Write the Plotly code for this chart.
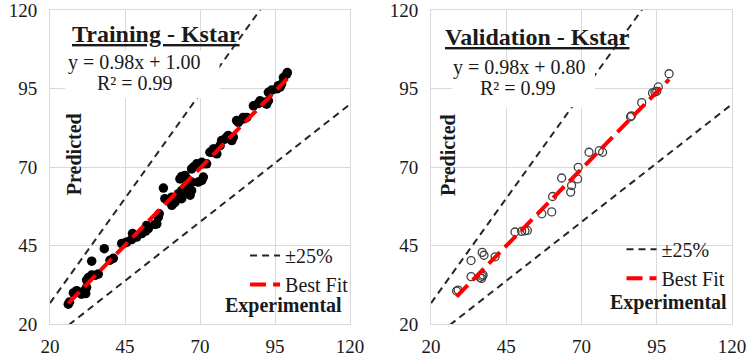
import plotly.graph_objects as go

# ---------------- data ----------------
train_exp = [26.1, 26.5, 27.8, 28.9, 30.0, 31.7, 32.2, 31.9, 30.5,
             32.2, 32.8, 33.9, 35.0, 36.1, 33.9, 38.1, 40.0, 41.1,
             43.9, 45.0, 45.6, 47.2, 48.9, 47.5, 50.6, 51.9, 52.8, 52.2, 55.0, 55.6, 56.1, 56.4,
             57.8, 58.3, 59.4, 60.0, 60.6, 60.6, 61.1, 61.7, 62.2, 62.8, 63.3, 63.9, 63.9, 64.4,
             65.0, 66.1, 66.1, 66.7, 67.2, 67.2, 63.3, 63.9, 65.0, 65.6, 66.7, 69.4, 70.6, 71.1,
             67.2, 67.8, 68.9, 70.6, 71.1, 72.2,
             73.3, 73.9, 74.4, 75.0, 75.6, 76.7, 77.2, 78.3, 78.9, 79.4, 80.6, 81.1, 80.6,
             82.2, 82.8, 84.4, 84.4, 85.6,
             87.8, 89.4, 90.0, 91.1, 92.2, 92.8,
             92.8, 93.9, 95.6, 96.1, 96.7, 97.2, 97.8, 98.9, 99.1]
train_pred = [26.3, 27.0, 29.9, 30.6, 29.9, 30.8, 31.6, 29.7, 29.5,
              34.0, 34.8, 35.6, 35.5, 35.9, 40.0, 44.0, 40.3, 40.9,
              45.6, 45.8, 46.1, 46.9, 47.7, 48.8, 48.8, 49.6, 50.4, 51.4, 51.7, 51.9, 54.0, 55.1,
              63.3, 59.9, 59.4, 59.4, 57.8, 60.4, 58.3, 58.8, 59.9, 61.5, 61.0, 62.5, 59.9, 62.0,
              63.6, 63.6, 64.7, 61.0, 62.5, 65.2, 66.2, 67.0, 67.3, 66.2, 64.6, 65.2, 65.7, 66.8,
              69.4, 70.0, 71.0, 71.5, 71.0, 71.0,
              74.7, 74.7, 75.7, 75.7, 74.2, 76.8, 78.4, 78.9, 79.5, 80.0, 79.5, 79.5, 78.4,
              84.8, 84.2, 85.3, 85.8, 85.8,
              89.5, 90.2, 91.1, 90.6, 90.0, 91.1,
              93.8, 94.5, 94.9, 95.9, 95.4, 96.4, 98.5, 99.6, 100.1]

valid_exp = [28.5, 29.0, 33.3, 33.3, 36.3, 37.0, 37.3, 36.8, 37.0, 37.6, 41.3,
             47.9, 50.1, 51.2, 52.0, 56.8, 60.1, 60.4, 63.4, 66.7, 66.4, 68.7, 68.9,
             72.5, 75.9, 77.0, 86.3, 86.6, 90.0, 93.6, 94.4, 95.0, 95.5, 99.1]
valid_pred = [30.5, 30.8, 40.2, 35.1, 34.8, 35.2, 35.6, 34.5, 42.8, 41.9, 41.4,
              49.3, 49.5, 49.7, 49.8, 55.1, 55.7, 60.6, 66.5, 64.1, 62.0, 66.2, 69.9,
              74.7, 75.2, 74.7, 86.0, 86.3, 90.5, 93.6, 93.9, 94.1, 95.5, 99.7]

train_fit = (0.98, 1.00)
valid_fit = (0.98, 0.80)
band_x = [20, 120]
band_hi = [x / 0.75 for x in band_x]
band_lo = [x * 0.75 for x in band_x]
tick_vals = [20, 45, 70, 95, 120]
tick_text = ["20", "45", "70", "95", "120"]

FONT = "Liberation Serif"
GRID = "#d9d9d9"
TXT = "#1a1a1a"

fig = go.Figure()


def add_panel(xa, ya, exps, preds, fit, marker, legend):
    fig.add_trace(go.Scatter(x=exps, y=preds, mode="markers", marker=marker,
                             showlegend=False, xaxis=xa, yaxis=ya, hoverinfo="skip"))
    fig.add_trace(go.Scatter(x=band_x, y=band_hi, mode="lines", name="±25%",
                             line=dict(color="#262626", width=2, dash="7px,5px"),
                             xaxis=xa, yaxis=ya, legend=legend, showlegend=True))
    fig.add_trace(go.Scatter(x=band_x, y=band_lo, mode="lines", name="±25%",
                             line=dict(color="#262626", width=2, dash="7px,5px"),
                             xaxis=xa, yaxis=ya, legend=legend, showlegend=False))
    fx = [min(exps), max(exps)]
    fy = [fit[0] * v + fit[1] for v in fx]
    fig.add_trace(go.Scatter(x=fx, y=fy, mode="lines", name="Best Fit",
                             line=dict(color="#ff0000", width=4, dash="16px,7px"),
                             xaxis=xa, yaxis=ya, legend=legend, showlegend=True))


add_panel("x", "y", train_exp, train_pred, train_fit,
          dict(color="black", size=9.5, symbol="circle"), "legend")
add_panel("x2", "y2", valid_exp, valid_pred, valid_fit,
          dict(color="#404040", size=8, symbol="circle-open", line=dict(width=1.3, color="#404040")),
          "legend2")

axis_common = dict(range=[20, 120], tickvals=tick_vals, ticktext=tick_text,
                   showgrid=True, gridcolor=GRID, gridwidth=1,
                   showline=True, linecolor=GRID, linewidth=1, mirror=True,
                   zeroline=False, ticks="", automargin=False, ticklabeloverflow="allow",
                   tickfont=dict(family=FONT, size=19, color=TXT))

fig.update_layout(
    width=749, height=360,
    margin=dict(l=50, r=17, t=10, b=36),
    paper_bgcolor="white", plot_bgcolor="white",
    xaxis=dict(domain=[0, 0.4399], anchor="y", ticklabelstandoff=5, **axis_common),
    yaxis=dict(domain=[0, 1], anchor="x", ticklabelstandoff=8, **axis_common),
    xaxis2=dict(domain=[0.5587, 1.0], anchor="y2", ticklabelstandoff=5, **axis_common),
    yaxis2=dict(domain=[0, 1], anchor="x2", ticklabelstandoff=8, **axis_common),
    legend=dict(x=0.286, y=0.280, xanchor="left", yanchor="top",
                bgcolor="rgba(255,255,255,0)", font=dict(family=FONT, size=20, color=TXT),
                tracegroupgap=0, itemwidth=30),
    legend2=dict(x=0.838, y=0.300, xanchor="left", yanchor="top",
                 bgcolor="rgba(255,255,255,0)", font=dict(family=FONT, size=20, color=TXT),
                 tracegroupgap=0, itemwidth=30),
    showlegend=True,
)

# white masks behind equation text boxes (text box background)
for xr, yr, x0, x1, y0, y1 in [("x domain", "y domain", 0.05, 0.565, 0.72, 0.87),
                               ("x2 domain", "y2 domain", 0.07, 0.545, 0.69, 0.84)]:
    fig.add_shape(type="rect", xref=xr, yref=yr, x0=x0, x1=x1, y0=y0, y1=y1,
                  fillcolor="white", line=dict(width=0), layer="above")

ann = []
ann.append(dict(x=0.1554, y=0.925, text="<b><u>Training - Kstar</u></b>",
                font=dict(family=FONT, size=24, color=TXT)))
ann.append(dict(x=0.1232, y=0.834, text="y = 0.98x + 1.00",
                font=dict(family=FONT, size=20, color=TXT)))
ann.append(dict(x=0.1240, y=0.768, text="R² = 0.99",
                font=dict(family=FONT, size=20, color=TXT)))
ann.append(dict(x=0.0352, y=0.541, text="<b>Predicted</b>", textangle=-90,
                font=dict(family=FONT, size=20, color=TXT)))
ann.append(dict(x=0.3431, y=0.0605, text="<b>Experimental</b>",
                font=dict(family=FONT, size=20, color=TXT)))
ann.append(dict(x=0.7155, y=0.915, text="<b><u>Validation - Kstar</u></b>",
                font=dict(family=FONT, size=24, color=TXT)))
ann.append(dict(x=0.6877, y=0.818, text="y = 0.98x + 0.80",
                font=dict(family=FONT, size=20, color=TXT)))
ann.append(dict(x=0.6862, y=0.752, text="R² = 0.99",
                font=dict(family=FONT, size=20, color=TXT)))
ann.append(dict(x=0.5836, y=0.538, text="<b>Predicted</b>", textangle=-90,
                font=dict(family=FONT, size=20, color=TXT)))
ann.append(dict(x=0.9076, y=0.070, text="<b>Experimental</b>",
                font=dict(family=FONT, size=20, color=TXT)))
for a in ann:
    a.update(xref="paper", yref="paper", showarrow=False, xanchor="center", yanchor="middle")
fig.update_layout(annotations=ann)

fig.write_html("out.html", config={"displayModeBar": False},
               post_script="document.body.style.margin='0';document.body.style.overflow='hidden';")
